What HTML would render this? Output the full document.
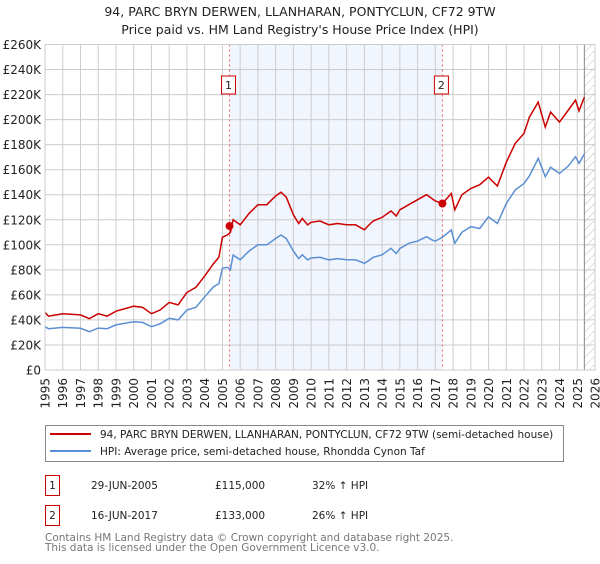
<!DOCTYPE html>
<html><head><meta charset="utf-8"><style>
body{margin:0;background:#fff;width:600px;height:560px;overflow:hidden;font-family:"DejaVu Sans","Liberation Sans",sans-serif;}
svg text{font-family:"DejaVu Sans","Liberation Sans",sans-serif;}
</style></head><body>
<svg id="chart" width="600" height="560">
<defs><pattern id="hatch" width="6" height="6" patternUnits="userSpaceOnUse" patternTransform="rotate(45)"><line x1="0" y1="0" x2="0" y2="6" stroke="#bbb" stroke-width="1"/></pattern></defs>
<text x="300" y="16" text-anchor="middle" font-size="12.5" fill="#222">94, PARC BRYN DERWEN, LLANHARAN, PONTYCLUN, CF72 9TW</text>
<text x="300" y="34" text-anchor="middle" font-size="12.5" fill="#222">Price paid vs. HM Land Registry's House Price Index (HPI)</text>
<g id="plot"></g>
<rect x="45.5" y="425.5" width="518" height="36" fill="#fff" stroke="#888"/>
<line x1="50" y1="434" x2="91" y2="434" stroke="#cc0000" stroke-width="2"/>
<text x="100" y="438" font-size="10.5" fill="#222">94, PARC BRYN DERWEN, LLANHARAN, PONTYCLUN, CF72 9TW (semi-detached house)</text>
<line x1="50" y1="451" x2="91" y2="451" stroke="#5b8fd4" stroke-width="2"/>
<text x="100" y="455" font-size="10.5" fill="#222">HPI: Average price, semi-detached house, Rhondda Cynon Taf</text>
<g>
<rect x="45.5" y="475.5" width="14" height="20" fill="#fff" stroke="#cc0000"/><text x="52.5" y="489" text-anchor="middle" font-size="10.5" fill="#222">1</text>
<text x="91" y="489" font-size="10.5" fill="#222">29-JUN-2005</text><text x="215" y="489" font-size="10.5" fill="#222">£115,000</text><text x="312" y="489" font-size="10.5" fill="#222">32% ↑ HPI</text></g>
<g>
<rect x="45.5" y="505.5" width="14" height="20" fill="#fff" stroke="#cc0000"/><text x="52.5" y="519" text-anchor="middle" font-size="10.5" fill="#222">2</text>
<text x="91" y="519" font-size="10.5" fill="#222">16-JUN-2017</text><text x="215" y="519" font-size="10.5" fill="#222">£133,000</text><text x="312" y="519" font-size="10.5" fill="#222">26% ↑ HPI</text></g>
<text x="45" y="541" font-size="10.5" fill="#777">Contains HM Land Registry data © Crown copyright and database right 2025.</text>
<text x="45" y="551" font-size="10.5" fill="#777">This data is licensed under the Open Government Licence v3.0.</text>
</svg>
<script>
const hpiYears=[1995,1995.2,1996,1997,1997.5,1998,1998.5,1999,2000,2000.5,2001,2001.5,2002,2002.5,2003,2003.5,2004,2004.5,2004.8,2005,2005.3,2005.45,2005.6,2006,2006.5,2007,2007.5,2008,2008.3,2008.6,2009,2009.3,2009.5,2009.8,2010,2010.5,2011,2011.5,2012,2012.5,2013,2013.2,2013.5,2014,2014.5,2014.8,2015,2015.5,2016,2016.5,2016.8,2017,2017.4,2017.9,2018.1,2018.5,2019,2019.5,2020,2020.5,2021,2021.5,2022,2022.3,2022.8,2023.2,2023.5,2024,2024.5,2024.9,2025.1,2025.4];
const hpiValues=[34.6,33,34,33.3,30.6,33.5,33,36,38.6,38,34.6,37,41.3,40,47.9,50,58.5,66.5,69,81.2,82,80,91.8,88,95,100,100,105,107.8,105,95,89,92,88,89.5,90,88,89,88,88,85.2,87,90,92,97.2,93,97,101.2,103,106.5,104,103,106,111.8,101.2,110,114.5,113,122.4,117,133,143.8,149,155,169,154.4,162,157,163,170.4,165,172.5];
const priceValues=[46,43,45,44,41,45,43,47,51,50,45,48,54,52,62,66,75,85,90,106,108,110,120,116,125,132,132,139,142,138,124,117,121,116,118,119,116,117,116,116,112,115,119,122,127,123,128,132,136,140,137,135,133,141,128,140,145,148,154,147,166,181,189,202,214,194,206,198,207.7,215.6,207,218];
const saleYears=[2005.4,2017.4];
const salePrices=[115,133];
const saleLabels=["1","2"];
const yTicks=[0,20,40,60,80,100,120,140,160,180,200,220,240,260];
const xTickYears=[1995,1996,1997,1998,1999,2000,2001,2002,2003,2004,2005,2006,2007,2008,2009,2010,2011,2012,2013,2014,2015,2016,2017,2018,2019,2020,2021,2022,2023,2024,2025,2026];

const X0=45,X1=595,Y0=370,Y1=44.5;
const xs=y=>X0+(y-1995)/(2026-1995)*(X1-X0);
const ys=v=>Y0-v/260*(Y0-Y1);
const NS="http://www.w3.org/2000/svg";
const g=document.getElementById('plot');
function mk(tag,attrs,parent){const e=document.createElementNS(NS,tag);for(const k in attrs)e.setAttribute(k,attrs[k]);(parent||g).appendChild(e);return e;}

let r=mk('rect',{x:xs(saleYears[0]),y:Y1,width:xs(saleYears[1])-xs(saleYears[0]),height:Y0-Y1,fill:'#eef3fd',opacity:0.8});


let h=mk('rect',{x:xs(2025.4),y:Y1,width:X1-xs(2025.4),height:Y0-Y1,fill:'url(#hatch)'});


yTicks.forEach(v=>{
  let l=mk('line',{x1:X0,x2:X1,y1:ys(v),y2:ys(v),stroke:'#cccccc','stroke-width':1});
  
  
  let t=mk('text',{x:X0-4,y:ys(v)+4.5,'text-anchor':'end','font-size':12,fill:'#222'});
  t.textContent=v===0?'£0':'£'+v+'K';
  
  
});
xTickYears.forEach(yr=>{
  let l=mk('line',{x1:xs(yr),x2:xs(yr),y1:Y1,y2:Y0,stroke:'#cccccc','stroke-width':1});
  
  
  let t=mk('text',{x:0,y:0,'text-anchor':'end','font-size':12,fill:'#222',transform:`translate(${xs(yr)+4.5},${Y0+8}) rotate(-90)`});
  t.textContent=yr;
  
  
});
let vl=mk('line',{x1:xs(2025.4),x2:xs(2025.4),y1:Y1,y2:Y0,stroke:'#888','stroke-width':1});


saleYears.forEach((yr,i)=>{
  let l=mk('line',{x1:xs(yr),x2:xs(yr),y1:Y1,y2:Y0,stroke:'#ee6666','stroke-width':1,'stroke-dasharray':'2,3'});
  
  
  let b=mk('rect',{x:xs(yr)-8,y:76,width:14,height:18,fill:'#fff',stroke:'#cc0000'});
  
  
  let t=mk('text',{x:xs(yr)-1,y:89,'text-anchor':'middle','font-size':11,fill:'#222'});
  t.textContent=saleLabels[i];
  
  
});
const line=(vals)=>hpiYears.map((y,i)=>xs(y).toFixed(1)+','+ys(vals[i]).toFixed(1)).join(' ');
let hl=mk('polyline',{points:line(hpiValues),fill:'none',stroke:'#5b8fd4','stroke-width':1.5});


let pl=mk('polyline',{points:line(priceValues),fill:'none',stroke:'#cc0000','stroke-width':1.5});


saleYears.forEach((yr,i)=>{
  let c=mk('circle',{cx:xs(yr),cy:ys(salePrices[i]),r:4,fill:'#cc0000'});
  
  
});
let f=mk('rect',{x:X0,y:Y1,width:X1-X0,height:Y0-Y1,fill:'none',stroke:'#cccccc'});


</script>
</body></html>
